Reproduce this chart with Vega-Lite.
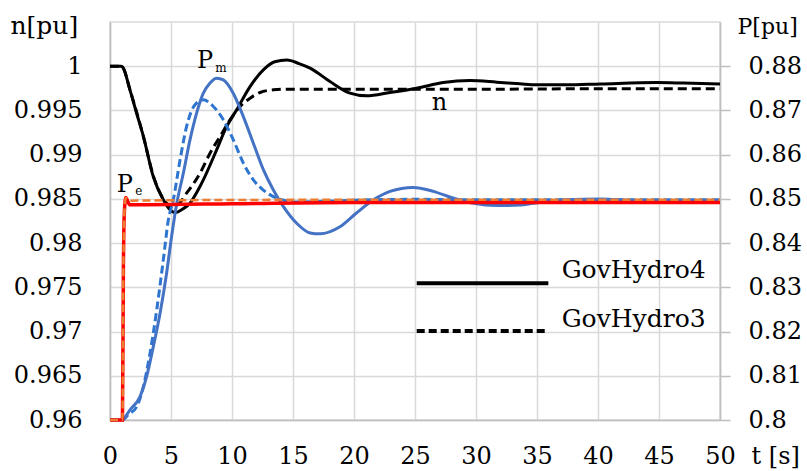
{
  "$schema": "https://vega.github.io/schema/vega-lite/v6.json",
  "width": 610,
  "height": 398,
  "autosize": {"type": "none"},
  "padding": {"left": 110, "top": 22, "right": 87, "bottom": 51},
  "background": "white",
  "config": {
    "view": {"stroke": "#d9d9d9", "strokeWidth": 1.5},
    "font": "DejaVu Serif",
    "axis": {
      "labelFont": "DejaVu Serif", "labelFontSize": 24, "labelColor": "#000000",
      "titleFont": "DejaVu Serif", "titleFontSize": 24, "titleFontWeight": "normal", "titleColor": "#000000",
      "gridColor": "#d9d9d9", "gridWidth": 1.5,
      "domainColor": "#bfbfbf", "domainWidth": 1.5,
      "tickColor": "#bfbfbf", "tickWidth": 1.5
    }
  },
  "datasets": {
    "n4": [
      {"t": 0, "v": 1.0}, {"t": 0.9, "v": 1.0}, {"t": 1.04, "v": 0.9999}, {"t": 1.64, "v": 0.9973},
      {"t": 2.2, "v": 0.9946}, {"t": 2.73, "v": 0.9921}, {"t": 3.55, "v": 0.9875}, {"t": 4.37, "v": 0.9849},
      {"t": 4.9, "v": 0.9838}, {"t": 5.33, "v": 0.98345}, {"t": 5.9, "v": 0.9838}, {"t": 6.56, "v": 0.9845},
      {"t": 7.1, "v": 0.9857}, {"t": 7.65, "v": 0.98715}, {"t": 8.74, "v": 0.99054}, {"t": 9.5, "v": 0.993},
      {"t": 10.38, "v": 0.99507}, {"t": 11.48, "v": 0.9977}, {"t": 12.57, "v": 0.99959}, {"t": 13.5, "v": 1.0005},
      {"t": 14.5, "v": 1.0007}, {"t": 15.5, "v": 1.0003}, {"t": 16.4, "v": 0.99978}, {"t": 18.03, "v": 0.99827},
      {"t": 19.67, "v": 0.99696}, {"t": 21.04, "v": 0.99665}, {"t": 22.95, "v": 0.99703}, {"t": 25.14, "v": 0.99752},
      {"t": 27.32, "v": 0.99816}, {"t": 29.5, "v": 0.99838}, {"t": 31.7, "v": 0.9982}, {"t": 33.6, "v": 0.99801},
      {"t": 35, "v": 0.9979}, {"t": 37.4, "v": 0.9979}, {"t": 40.2, "v": 0.998}, {"t": 44.8, "v": 0.99815},
      {"t": 47, "v": 0.9981}, {"t": 50, "v": 0.998}
    ],
    "n3": [
      {"t": 0, "v": 1.0}, {"t": 0.9, "v": 1.0}, {"t": 1.04, "v": 0.9999}, {"t": 1.64, "v": 0.9973},
      {"t": 2.73, "v": 0.9921}, {"t": 3.55, "v": 0.9876}, {"t": 4.37, "v": 0.985}, {"t": 5.05, "v": 0.9842},
      {"t": 5.5, "v": 0.9843}, {"t": 6.28, "v": 0.98565}, {"t": 7.38, "v": 0.98791}, {"t": 8.2, "v": 0.99017},
      {"t": 9.02, "v": 0.99205}, {"t": 9.84, "v": 0.99394}, {"t": 10.66, "v": 0.99544}, {"t": 11.48, "v": 0.99639},
      {"t": 12.3, "v": 0.99703}, {"t": 13.4, "v": 0.99733}, {"t": 14.75, "v": 0.99741}, {"t": 20, "v": 0.9974},
      {"t": 30, "v": 0.9974}, {"t": 40, "v": 0.99745}, {"t": 50, "v": 0.99745}
    ],
    "pm4": [
      {"t": 0, "v": 0.8}, {"t": 0.96, "v": 0.8}, {"t": 1.64, "v": 0.8023}, {"t": 2.46, "v": 0.8053},
      {"t": 3.0, "v": 0.8098}, {"t": 3.55, "v": 0.8166}, {"t": 4.1, "v": 0.8241}, {"t": 4.64, "v": 0.8332},
      {"t": 5.05, "v": 0.8415}, {"t": 5.46, "v": 0.8488}, {"t": 6.01, "v": 0.8558}, {"t": 6.56, "v": 0.8634},
      {"t": 7.1, "v": 0.8694}, {"t": 7.65, "v": 0.8739}, {"t": 8.2, "v": 0.8762}, {"t": 8.74, "v": 0.8773},
      {"t": 9.29, "v": 0.8769}, {"t": 10.1, "v": 0.8739}, {"t": 10.93, "v": 0.8686}, {"t": 11.75, "v": 0.8626},
      {"t": 12.57, "v": 0.8566}, {"t": 13.39, "v": 0.852}, {"t": 14.2, "v": 0.8483}, {"t": 15.3, "v": 0.8445},
      {"t": 16.4, "v": 0.8423}, {"t": 17.2, "v": 0.8421}, {"t": 18.85, "v": 0.8437}, {"t": 20.2, "v": 0.8468},
      {"t": 21.6, "v": 0.8498}, {"t": 22.95, "v": 0.8517}, {"t": 24.86, "v": 0.8526}, {"t": 26.5, "v": 0.8517},
      {"t": 28.1, "v": 0.8502}, {"t": 29.8, "v": 0.849}, {"t": 31.7, "v": 0.8485}, {"t": 33.6, "v": 0.8486},
      {"t": 34.7, "v": 0.849}, {"t": 37.4, "v": 0.8498}, {"t": 40.2, "v": 0.85}, {"t": 42.9, "v": 0.8496},
      {"t": 45.6, "v": 0.8495}, {"t": 50, "v": 0.8495}
    ],
    "pm3": [
      {"t": 0, "v": 0.8}, {"t": 1.0, "v": 0.8}, {"t": 1.5, "v": 0.8012}, {"t": 2.19, "v": 0.803},
      {"t": 2.73, "v": 0.8075}, {"t": 3.28, "v": 0.8151}, {"t": 3.83, "v": 0.8249}, {"t": 4.37, "v": 0.8362},
      {"t": 4.78, "v": 0.8452}, {"t": 5.19, "v": 0.8498}, {"t": 5.74, "v": 0.8588}, {"t": 6.28, "v": 0.8664},
      {"t": 6.97, "v": 0.8713}, {"t": 7.65, "v": 0.8724}, {"t": 8.47, "v": 0.8709}, {"t": 9.29, "v": 0.8679},
      {"t": 10.1, "v": 0.8634}, {"t": 10.93, "v": 0.8581}, {"t": 11.75, "v": 0.8543}, {"t": 12.57, "v": 0.852},
      {"t": 13.66, "v": 0.8502}, {"t": 15.3, "v": 0.8493}, {"t": 17, "v": 0.8494}, {"t": 20, "v": 0.8497},
      {"t": 25, "v": 0.8499}, {"t": 30, "v": 0.8498}, {"t": 40, "v": 0.8498}, {"t": 50, "v": 0.8498}
    ],
    "pe4": [
      {"t": 0, "v": 0.8}, {"t": 1.02, "v": 0.8}, {"t": 1.1, "v": 0.835}, {"t": 1.17, "v": 0.8465},
      {"t": 1.3, "v": 0.8503}, {"t": 1.42, "v": 0.8497}, {"t": 1.6, "v": 0.8487}, {"t": 3, "v": 0.8487},
      {"t": 10, "v": 0.8489}, {"t": 20, "v": 0.8492}, {"t": 30, "v": 0.8492}, {"t": 40, "v": 0.8492},
      {"t": 50, "v": 0.8492}
    ],
    "pe3": [
      {"t": 0, "v": 0.8}, {"t": 1.02, "v": 0.8}, {"t": 1.1, "v": 0.835}, {"t": 1.17, "v": 0.8465},
      {"t": 1.3, "v": 0.8502}, {"t": 1.6, "v": 0.8496}, {"t": 5, "v": 0.8497}, {"t": 20, "v": 0.8498},
      {"t": 50, "v": 0.8498}
    ],
    "legendLines": [
      {"t": 25.14, "t2": 35.93, "v": 0.97547, "series": "GovHydro4"},
      {"t": 25.14, "t2": 35.93, "v": 0.97007, "series": "GovHydro3"}
    ],
    "legendText": [
      {"t": 37.02, "v": 0.97607, "label": "GovHydro4"},
      {"t": 37.02, "v": 0.97056, "label": "GovHydro3"}
    ],
    "annBig": [
      {"t": 7.13, "v": 0.9998, "label": "P"},
      {"t": 0.55, "v": 0.98581, "label": "P"},
      {"t": 26.37, "v": 0.99505, "label": "n"}
    ],
    "annSmall": [
      {"t": 8.62, "v": 0.99935, "label": "m"},
      {"t": 2.07, "v": 0.98544, "label": "e"}
    ]
  },
  "encoding": {
    "x": {
      "field": "t", "type": "quantitative",
      "scale": {"domain": [0, 50], "nice": false, "zero": false},
      "axis": {
        "values": [0, 5, 10, 15, 20, 25, 30, 35, 40, 45, 50],
        "grid": true, "ticks": false, "tickSize": 0,
        "labelPadding": 43, "labelBaseline": "alphabetic", "labelFlush": false,
        "title": "t [s]", "titleFontSize": 24, "titleAngle": 0, "titleAlign": "left", "titleBaseline": "alphabetic",
        "titleX": 641, "titleY": 43
      }
    }
  },
  "resolve": {"scale": {"y": "independent"}},
  "layer": [
    {
      "encoding": {
        "y": {
          "field": "v", "type": "quantitative",
          "scale": {"domain": [0.96, 1.005], "nice": false, "zero": false},
          "axis": {
            "orient": "left",
            "values": [0.96, 0.965, 0.97, 0.975, 0.98, 0.985, 0.99, 0.995, 1.0],
            "format": ".3~f", "grid": true, "ticks": false, "tickSize": 0,
            "labelPadding": 28, "labelFlush": false,
            "title": "n[pu]", "titleFontSize": 25, "titleAngle": 0, "titleAlign": "left", "titleBaseline": "alphabetic",
            "titleX": -100, "titleY": 11
          }
        }
      },
      "layer": [
        {"data": {"name": "n3"}, "mark": {"type": "line", "color": "#000000", "strokeWidth": 3, "strokeDash": [9, 5], "interpolate": "monotone"}},
        {"data": {"name": "n4"}, "mark": {"type": "line", "color": "#000000", "strokeWidth": 3, "interpolate": "monotone"}},
        {
          "data": {"name": "legendLines"},
          "mark": {"type": "rule", "color": "#000000", "strokeWidth": 4},
          "encoding": {
            "x2": {"field": "t2"},
            "strokeDash": {"field": "series", "type": "nominal", "scale": {"domain": ["GovHydro4", "GovHydro3"], "range": [[1, 0], [8, 4]]}, "legend": null}
          }
        },
        {
          "data": {"name": "legendText"},
          "mark": {"type": "text", "font": "DejaVu Serif", "fontSize": 25, "align": "left", "baseline": "alphabetic", "color": "#000000"},
          "encoding": {"text": {"field": "label"}}
        },
        {
          "data": {"name": "annBig"},
          "mark": {"type": "text", "font": "DejaVu Serif", "fontSize": 24, "align": "left", "baseline": "alphabetic", "color": "#000000"},
          "encoding": {"text": {"field": "label"}}
        },
        {
          "data": {"name": "annSmall"},
          "mark": {"type": "text", "font": "DejaVu Serif", "fontSize": 12, "align": "left", "baseline": "alphabetic", "color": "#000000"},
          "encoding": {"text": {"field": "label"}}
        }
      ]
    },
    {
      "encoding": {
        "y": {
          "field": "v", "type": "quantitative",
          "scale": {"domain": [0.8, 0.89], "nice": false, "zero": false},
          "axis": {
            "orient": "right",
            "values": [0.8, 0.81, 0.82, 0.83, 0.84, 0.85, 0.86, 0.87, 0.88],
            "format": ".2~f", "grid": false, "ticks": true, "tickSize": 10,
            "labelPadding": 18, "labelFlush": false,
            "title": "P[pu]", "titleFontSize": 22, "titleAngle": 0, "titleAlign": "left", "titleBaseline": "alphabetic",
            "titleX": 17, "titleY": 11
          }
        }
      },
      "layer": [
        {"data": {"name": "pm3"}, "mark": {"type": "line", "color": "#2e75d0", "strokeWidth": 3, "strokeDash": [8, 4], "interpolate": "monotone"}},
        {"data": {"name": "pm4"}, "mark": {"type": "line", "color": "#4472c4", "strokeWidth": 3, "interpolate": "monotone"}},
        {"data": {"name": "pe4"}, "mark": {"type": "line", "color": "#ff0000", "strokeWidth": 3.5, "interpolate": "monotone"}},
        {"data": {"name": "pe3"}, "mark": {"type": "line", "color": "#ed7d31", "strokeWidth": 2.5, "strokeDash": [8, 4], "interpolate": "monotone"}}
      ]
    }
  ]
}
